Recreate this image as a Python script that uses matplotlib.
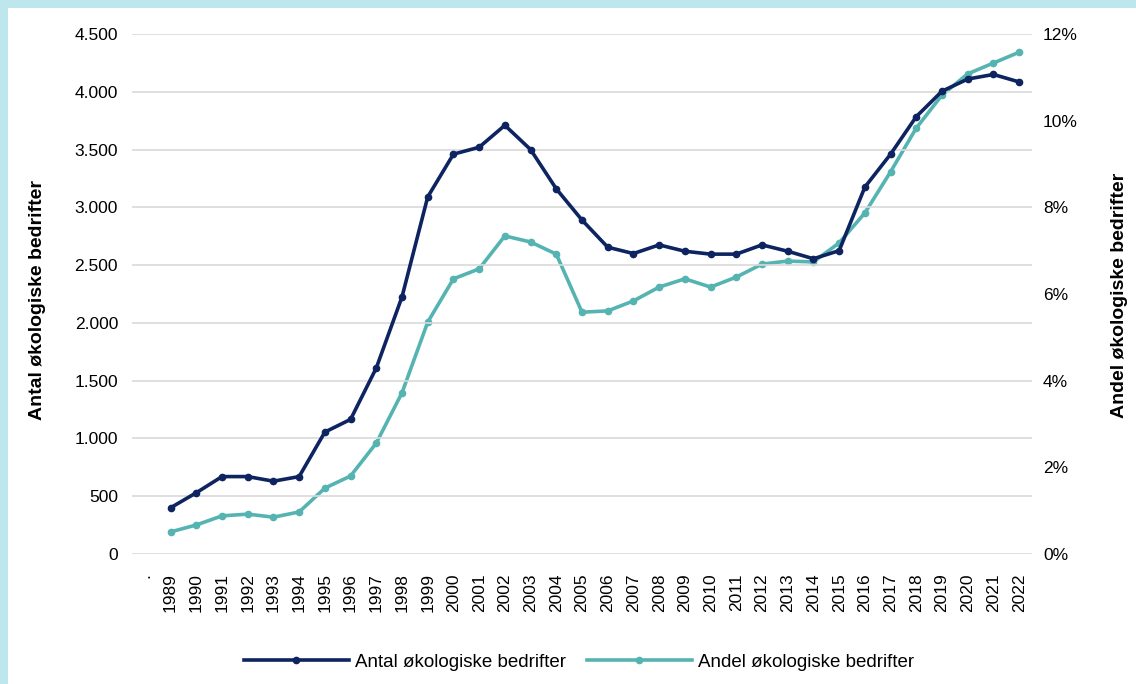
import matplotlib
matplotlib.use("Agg")
import matplotlib.pyplot as plt
from matplotlib.ticker import FuncFormatter, MultipleLocator
from matplotlib.patches import Rectangle

plt.rcParams['font.family'] = ['Liberation Sans', 'DejaVu Sans']

years = [str(y) for y in range(1989, 2023)]
categories = ["."] + years

antal = [400, 530, 670, 670, 630, 670, 1055, 1165, 1610, 2225, 3090, 3460, 3520,
         3710, 3500, 3160, 2890, 2655, 2600, 2675, 2620, 2595, 2595, 2675, 2620,
         2555, 2625, 3175, 3460, 3785, 4005, 4110, 4150, 4085]
andel = [0.51, 0.67, 0.88, 0.92, 0.85, 0.97, 1.52, 1.80, 2.56, 3.72, 5.35, 6.35, 6.58,
         7.34, 7.20, 6.92, 5.58, 5.61, 5.84, 6.16, 6.35, 6.16, 6.39, 6.69, 6.76,
         6.74, 7.18, 7.87, 8.82, 9.83, 10.59, 11.08, 11.33, 11.58]

left_label = "Antal økologiske bedrifter"
right_label = "Andel økologiske bedrifter"

navy = "#0e2461"
teal = "#55b4b2"

fig = plt.figure(figsize=(11.36, 6.84), dpi=100)
fig.patch.set_facecolor("white")
# light cyan frame on left and top
fig.patches.append(Rectangle((0, 0), 8/1136, 1, transform=fig.transFigure,
                             facecolor="#bde7ec", edgecolor="none", zorder=0))
fig.patches.append(Rectangle((0, 1-8/684), 1, 8/684, transform=fig.transFigure,
                             facecolor="#bde7ec", edgecolor="none", zorder=0))

ax = fig.add_axes([132/1136, 1-554/684, 900/1136, 520/684])
ax2 = ax.twinx()

x = list(range(1, len(categories)))
l1, = ax.plot(x, antal, color=navy, lw=2.6, marker='o', ms=4.5, label=left_label, zorder=3)
l2, = ax2.plot(x, andel, color=teal, lw=2.6, marker='o', ms=4.5, label=right_label, zorder=3)

ax.set_xlim(-0.5, len(categories) - 0.5)
ax.set_ylim(0, 4500)
ax2.set_ylim(0, 12)
ax.yaxis.set_major_locator(MultipleLocator(500))
ax2.yaxis.set_major_locator(MultipleLocator(2))
ax.yaxis.set_major_formatter(FuncFormatter(lambda v, p: f"{int(v):,}".replace(",", ".")))
ax2.yaxis.set_major_formatter(FuncFormatter(lambda v, p: f"{int(v)}%"))

ax.set_xticks(range(len(categories)))
ax.set_xticklabels(categories, rotation=90, fontsize=12.5)
ax.tick_params(axis='x', length=0, pad=14)
ax.tick_params(axis='y', length=0, pad=10, labelsize=12.5)
ax2.tick_params(axis='y', length=0, pad=8, labelsize=12.5)

ax.grid(axis='y', color="#d9d9d9", lw=1.2)
ax.set_axisbelow(True)
for a in (ax, ax2):
    for s in a.spines.values():
        s.set_visible(False)
ax.set_zorder(ax2.get_zorder() + 1)
ax.patch.set_visible(False)

fig.text(38/1136, 1-300/684, left_label, rotation=90, ha='center', va='center',
         fontsize=14, fontweight='bold')
fig.text(1120/1136, 1-295/684, right_label, rotation=90, ha='center', va='center',
         fontsize=14, fontweight='bold')

fig.legend(handles=[l1, l2], loc='center', bbox_to_anchor=(579/1136, 1-662/684),
           ncol=2, frameon=False, fontsize=13.5, handlelength=5.6, columnspacing=1.1,
           handletextpad=0.35)

fig.savefig("out.png", dpi=100, facecolor="white")
